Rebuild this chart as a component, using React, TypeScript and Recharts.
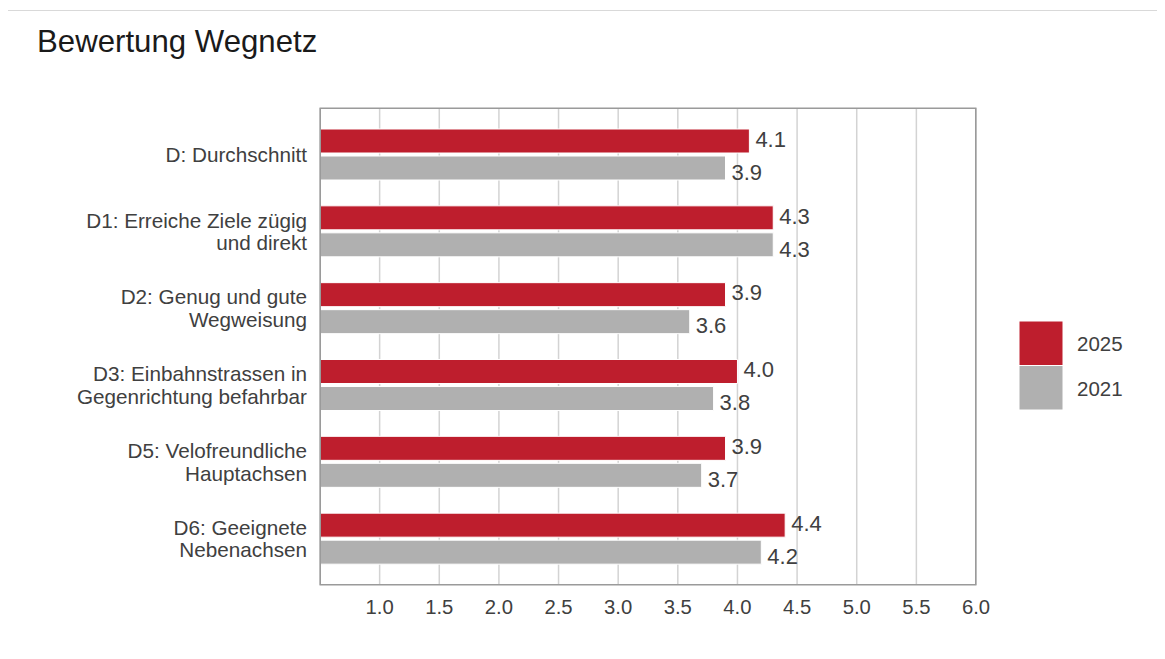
import React from "react";
import { BarChart, Bar, XAxis, YAxis, CartesianGrid, LabelList } from "recharts";

const categories = [
  "D: Durchschnitt",
  "D1: Erreiche Ziele zügig\nund direkt",
  "D2: Genug und gute\nWegweisung",
  "D3: Einbahnstrassen in\nGegenrichtung befahrbar",
  "D5: Velofreundliche\nHauptachsen",
  "D6: Geeignete\nNebenachsen",
];
const values2025 = [4.1, 4.3, 3.9, 4.0, 3.9, 4.4];
const values2021 = [3.9, 4.3, 3.6, 3.8, 3.7, 4.2];
const xTicks = [1.0, 1.5, 2.0, 2.5, 3.0, 3.5, 4.0, 4.5, 5.0, 5.5, 6.0];
const seriesNames = ["2025", "2021"];
const seriesColors = ["#BE1E2D", "#B0B0B0"];
const title = "Bewertung Wegnetz";

const data = categories.map((name, i) => ({
  name,
  v2025: values2025[i],
  v2021: values2021[i],
}));

const FONT = '"Liberation Sans", Arial, Helvetica, sans-serif';
const TEXT = "#404040";

const YTick = (props: any) => {
  const { x, y, payload } = props;
  const lines = String(payload.value).split("\n");
  const lh = 22.5;
  const start = y - ((lines.length - 1) / 2) * lh + 7.5;
  return (
    <text x={x} y={start} textAnchor="end" fill={TEXT} fontSize={20.7} fontFamily={FONT}>
      {lines.map((l, i) => (
        <tspan key={i} x={x} y={start + i * lh}>
          {l}
        </tspan>
      ))}
    </text>
  );
};

const makeLabel = (dyOff: number) => (props: any) => {
  const { x, y, width, height, value } = props;
  return (
    <text
      x={x + width + 6}
      y={y + height / 2 + dyOff + 7.8}
      fill={TEXT}
      fontSize={22}
      fontFamily={FONT}
      textAnchor="start"
    >
      {Number(value).toFixed(1)}
    </text>
  );
};

export default function App() {
  return (
    <div
      style={{
        position: "relative",
        width: 1165,
        height: 659,
        marginLeft: -8,
        marginTop: -8,
        overflow: "hidden",
        background: "#fff",
        fontFamily: FONT,
      }}
    >
      <div
        style={{
          position: "absolute",
          left: 7,
          top: 10,
          width: 1300,
          height: 800,
          borderLeft: "1px solid #d9d9d9",
          borderTop: "1px solid #d9d9d9",
        }}
      />
      <div style={{ position: "absolute", left: 0, top: 0 }}>
        <BarChart
          width={1165}
          height={659}
          data={data}
          layout="vertical"
          margin={{ top: 108, right: 189, bottom: 34, left: 0 }}
          barSize={24}
          barGap={3}
        >
          <CartesianGrid horizontal={false} vertical={true} stroke="#d3d3d3" strokeWidth={1.5} />
          <XAxis
            type="number"
            domain={[0.5, 6]}
            ticks={xTicks}
            allowDataOverflow
            tickFormatter={(v: number) => v.toFixed(1)}
            axisLine={false}
            tickLine={false}
            tickSize={0}
            tickMargin={15}
            height={40}
            tick={{ fill: TEXT, fontSize: 20.3, fontFamily: FONT }}
          />
          <YAxis
            type="category"
            dataKey="name"
            width={320}
            axisLine={false}
            tickLine={false}
            tickSize={0}
            tickMargin={13}
            padding={{ top: 8, bottom: 8 }}
            tick={<YTick />}
            interval={0}
          />
          <Bar dataKey="v2025" name={seriesNames[0]} fill={seriesColors[0]} stroke="#fff" strokeWidth={1} isAnimationActive={false}>
            <LabelList dataKey="v2025" content={makeLabel(-2)} />
          </Bar>
          <Bar dataKey="v2021" name={seriesNames[1]} fill={seriesColors[1]} stroke="#fff" strokeWidth={1} isAnimationActive={false}>
            <LabelList dataKey="v2021" content={makeLabel(4)} />
          </Bar>
        </BarChart>
      </div>
      <svg
        width={1165}
        height={659}
        style={{ position: "absolute", left: 0, top: 0, pointerEvents: "none" }}
      >
        <rect x={320.25} y={108.25} width={655.5} height={476.5} fill="none" stroke="#9a9a9a" strokeWidth={1.5} />
        <text x={37} y={52} fontSize={31.2} fill="#1a1a1a" fontFamily={FONT}>
          {title}
        </text>
        {seriesNames.map((n, i) => (
          <g key={n}>
            <rect x={1019} y={321 + i * 44.5} width={44} height={44.5} fill={seriesColors[i]} stroke="#fff" strokeWidth={1} />
            <text x={1077} y={344 + i * 44.5 + 7} fontSize={20.5} fill={TEXT} fontFamily={FONT}>
              {n}
            </text>
          </g>
        ))}
      </svg>
    </div>
  );
}
